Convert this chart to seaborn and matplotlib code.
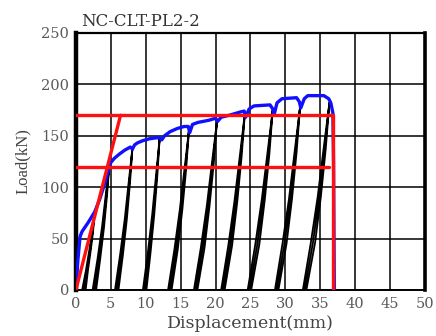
import matplotlib
matplotlib.use("Agg")
import matplotlib.pyplot as plt
import seaborn as sns
import pandas as pd

# Envelope (skeleton) curve of the cyclic test, displacement in mm / load in kN
env_disp = [0, 0.3, 0.6, 0.9, 1.8, 2.7, 3.4, 4.2, 4.9, 5.5, 6.2, 7.0, 7.8, 8.1, 8.4,
            8.8, 9.5, 10.5, 11.5, 12.0, 12.3, 12.7, 13.5, 14.5, 15.5, 16.1, 16.3, 16.7,
            17.5, 19.0, 20.0, 20.3, 20.8, 22.0, 23.5, 24.1, 24.3, 24.8, 25.5, 27.8,
            28.2, 28.4, 28.8, 29.5, 31.6, 32.0, 32.2, 32.7, 33.2, 35.5, 36.2, 36.5,
            36.8, 36.9, 37.0]
env_load = [0, 30, 52, 57, 66, 76, 88, 105, 123, 128, 132, 136, 139, 137, 141,
            143, 145, 147, 148, 148, 146, 150, 154, 157, 159, 159, 153, 161,
            163, 165, 167, 164, 168, 170, 173, 174, 168, 176, 179, 180,
            176, 171, 182, 186, 187, 183, 177, 186, 189, 189, 186, 182,
            172, 120, 0]

# Unloading / reloading passes of each cycle (peak -> zero -> peak -> zero)
loop_disp = [
    [2.7, 2.30, 1.91, 1.44, 0.9, 1.15, 1.58, 2.02, 2.38, 2.7, 2.45, 2.12, 1.73, 1.4],
    [4.8, 4.27, 3.74, 3.12, 2.4, 2.65, 3.31, 3.89, 4.37, 4.8, 4.46, 4.03, 3.50, 2.9],
    [8.1, 7.55, 7.00, 6.35, 5.6, 5.85, 6.55, 7.15, 7.65, 8.1, 7.75, 7.30, 6.75, 6.1],
    [12.0, 11.47, 10.94, 10.32, 9.6, 9.85, 10.51, 11.09, 11.57, 12.0, 11.66, 11.23, 10.70, 10.1],
    [16.2, 15.54, 14.88, 14.10, 13.2, 13.45, 14.34, 15.06, 15.66, 16.2, 15.78, 15.24, 14.58, 13.7],
    [20.2, 19.47, 18.75, 17.89, 16.9, 17.15, 18.15, 18.95, 19.61, 20.2, 19.74, 19.14, 18.42, 17.4],
    [24.2, 23.45, 22.70, 21.82, 20.8, 21.05, 22.09, 22.91, 23.59, 24.2, 23.72, 23.11, 22.36, 21.3],
    [28.2, 27.41, 26.62, 25.68, 24.6, 24.85, 25.97, 26.83, 27.55, 28.2, 27.70, 27.05, 26.26, 25.1],
    [32.1, 31.31, 30.52, 29.58, 28.5, 28.75, 29.87, 30.73, 31.45, 32.1, 31.60, 30.95, 30.16, 29.0],
    [36.3, 35.46, 34.63, 33.64, 32.5, 32.75, 33.94, 34.86, 35.62, 36.3, 35.77, 35.08, 34.25, 33.0],
]
loop_load = [
    [75, 56, 38, 19, 0, 0, 19, 38, 56, 75, 56, 38, 19, 0],
    [122, 92, 61, 31, 0, 0, 31, 61, 92, 122, 92, 61, 31, 0],
    [138, 104, 69, 35, 0, 0, 35, 69, 104, 138, 104, 69, 35, 0],
    [148, 111, 74, 37, 0, 0, 37, 74, 111, 148, 111, 74, 37, 0],
    [156, 117, 78, 39, 0, 0, 39, 78, 117, 156, 117, 78, 39, 0],
    [164, 123, 82, 41, 0, 0, 41, 82, 123, 164, 123, 82, 41, 0],
    [172, 129, 86, 43, 0, 0, 43, 86, 129, 172, 129, 86, 43, 0],
    [176, 132, 88, 44, 0, 0, 44, 88, 132, 176, 132, 88, 44, 0],
    [178, 134, 89, 45, 0, 0, 45, 89, 134, 178, 134, 89, 45, 0],
    [182, 137, 91, 46, 0, 0, 46, 91, 137, 182, 137, 91, 46, 0],
]

# Bilinear idealisation: elastic line, yield level, ultimate level, failure displacement
elastic_disp = [0, 6.4]
elastic_load = [0, 170]
yield_disp = [0, 36.2]
yield_load = [120, 120]
ultimate_disp = [0, 36.8, 36.8]
ultimate_load = [170, 170, 0]

x_ticks = [0, 5, 10, 15, 20, 25, 30, 35, 40, 45, 50]
y_ticks = [0, 50, 100, 150, 200, 250]

sns.set_style("white")
plt.rcParams["font.family"] = ["DejaVu Serif"]

fig = plt.figure(figsize=(4.36, 3.36), dpi=100)
ax = fig.add_axes([0.174, 0.137, 0.801, 0.765])

loops = pd.DataFrame({
    "disp": [v for c in loop_disp for v in c],
    "load": [v for c in loop_load for v in c],
    "cycle": [i for i, c in enumerate(loop_disp) for _ in c],
})
sns.lineplot(data=loops, x="disp", y="load", units="cycle", estimator=None,
             sort=False, color="black", linewidth=1.3, ax=ax, zorder=3)

env = pd.DataFrame({"disp": env_disp, "load": env_load})
sns.lineplot(data=env, x="disp", y="load", sort=False, estimator=None,
             color="#1010ff", linewidth=2.4, ax=ax, zorder=4)

for xs, ys in [(elastic_disp, elastic_load), (yield_disp, yield_load),
               (ultimate_disp, ultimate_load)]:
    sns.lineplot(x=xs, y=ys, sort=False, estimator=None, color="#ff1010",
                 linewidth=2.4, ax=ax, zorder=5)

ax.set_xlim(0, 50)
ax.set_ylim(0, 250)
ax.set_xticks(x_ticks)
ax.set_yticks(y_ticks)
ax.grid(True, color="black", linewidth=1.1)
ax.set_axisbelow(True)
ax.tick_params(length=0, labelsize=10.5, labelcolor="#5a5a5a", pad=5)

for side, lw in [("left", 3.2), ("right", 2.6), ("top", 1.6), ("bottom", 1.4)]:
    ax.spines[side].set_visible(True)
    ax.spines[side].set_color("black")
    ax.spines[side].set_linewidth(lw)

ax.set_xlabel("Displacement(mm)", fontsize=12.5, color="#444444", labelpad=3)
ax.set_ylabel("Load(kN)", fontsize=12, color="#444444", labelpad=7,
              family="Liberation Serif")
ax.text(0.015, 1.012, "NC-CLT-PL2-2", transform=ax.transAxes, fontsize=12,
        color="#333333", ha="left", va="bottom")

fig.savefig("out.png", dpi=100)
